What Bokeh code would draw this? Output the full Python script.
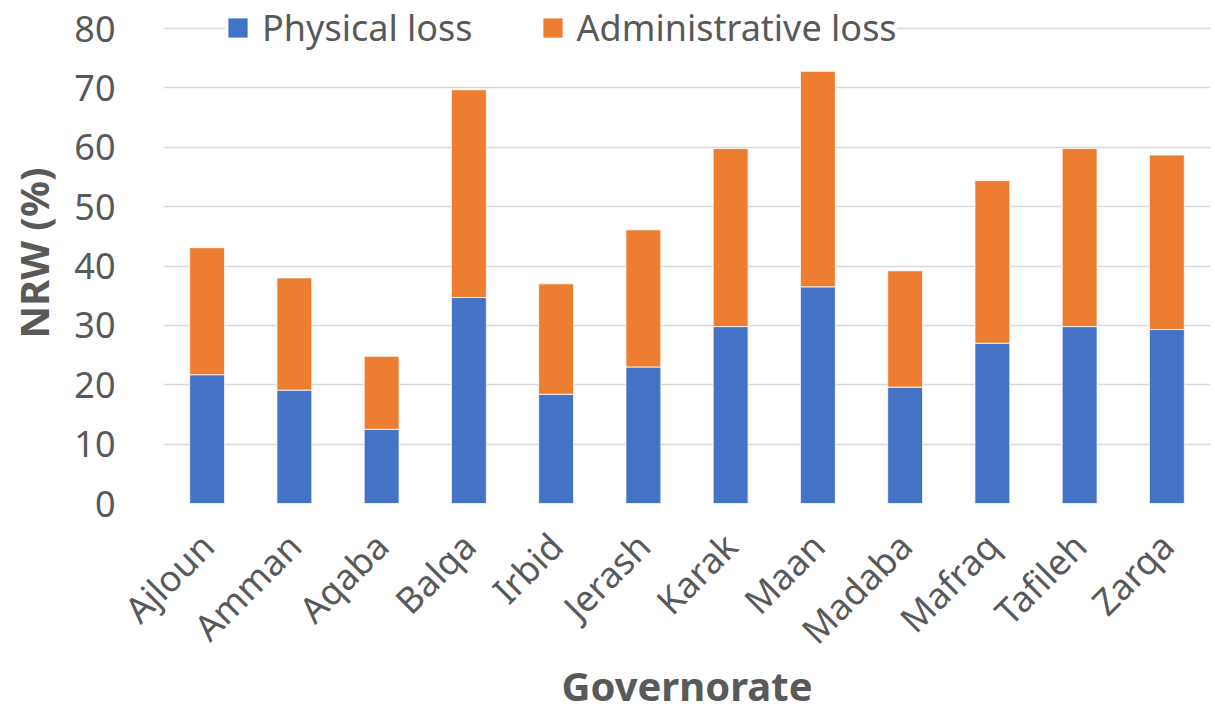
from bokeh.plotting import figure
from bokeh.models import FactorRange, Range1d, Legend, LegendItem, FixedTicker
from bokeh.embed import file_html
from bokeh.resources import INLINE
import math

governorates = ["Ajloun", "Amman", "Aqaba", "Balqa", "Irbid", "Jerash",
                "Karak", "Maan", "Madaba", "Mafraq", "Tafileh", "Zarqa"]
physical_loss = [21.7, 19.1, 12.5, 34.7, 18.4, 23.0, 29.8, 36.5, 19.6, 27.0, 29.8, 29.3]
total_nrw = [43.1, 38.0, 24.8, 69.7, 37.0, 46.1, 59.8, 72.8, 39.2, 54.4, 59.8, 58.7]
administrative_loss = [round(t - p, 1) for t, p in zip(total_nrw, physical_loss)]
y_ticks = [0, 10, 20, 30, 40, 50, 60, 70, 80]

FONT = "Noto Sans"
GREY = "#595959"

p = figure(x_range=FactorRange(*governorates), y_range=Range1d(0, 84.4),
           frame_width=1047, frame_height=501, output_backend="svg", toolbar_location=None,
           min_border_left=163, min_border_right=0, min_border_top=2,
           min_border_bottom=0)
p.outline_line_color = None

data = dict(gov=governorates, phys=physical_loss, admin=administrative_loss)
rs = p.vbar_stack(["phys", "admin"], x="gov", width=0.4, source=data,
                  color=["#4472C4", "#ED7D31"], line_color="white", line_width=0.8)

p.xgrid.grid_line_color = None
p.ygrid.grid_line_color = "#d9d9d9"
p.ygrid.grid_line_width = 1.5
p.yaxis.ticker = FixedTicker(ticks=y_ticks)

for ax in (p.xaxis[0], p.yaxis[0]):
    ax.axis_line_color = None
    ax.major_tick_line_color = None
    ax.minor_tick_line_color = None
    ax.major_label_text_font = FONT
    ax.major_label_text_color = GREY
    ax.major_label_text_font_size = "36px"
    ax.axis_label_text_font = FONT
    ax.axis_label_text_font_style = "bold"
    ax.axis_label_text_color = GREY
    ax.axis_label_text_font_size = "40px"

p.yaxis.major_label_standoff = 42
p.yaxis.axis_label = "NRW (%)"
p.yaxis.axis_label_standoff = 10
p.xaxis.axis_label = "Governorate"
p.xaxis.major_label_orientation = math.pi / 4
p.xaxis.major_label_standoff = 30
p.xaxis.axis_label_standoff = -16

legend = Legend(items=[LegendItem(label="Physical loss", renderers=[rs[0]]),
                       LegendItem(label="Administrative loss", renderers=[rs[1]])],
                orientation="horizontal", location=(62, 451))
legend.label_text_font = FONT
legend.label_text_font_size = "36px"
legend.label_text_color = GREY
legend.glyph_width = 25
legend.glyph_height = 25
legend.label_standoff = 12
legend.spacing = 67
legend.padding = 8
legend.margin = 0
legend.border_line_color = None
legend.background_fill_color = "white"
legend.background_fill_alpha = 1.0
p.add_layout(legend, "center")

open("out.html", "w").write(file_html(p, INLINE))
